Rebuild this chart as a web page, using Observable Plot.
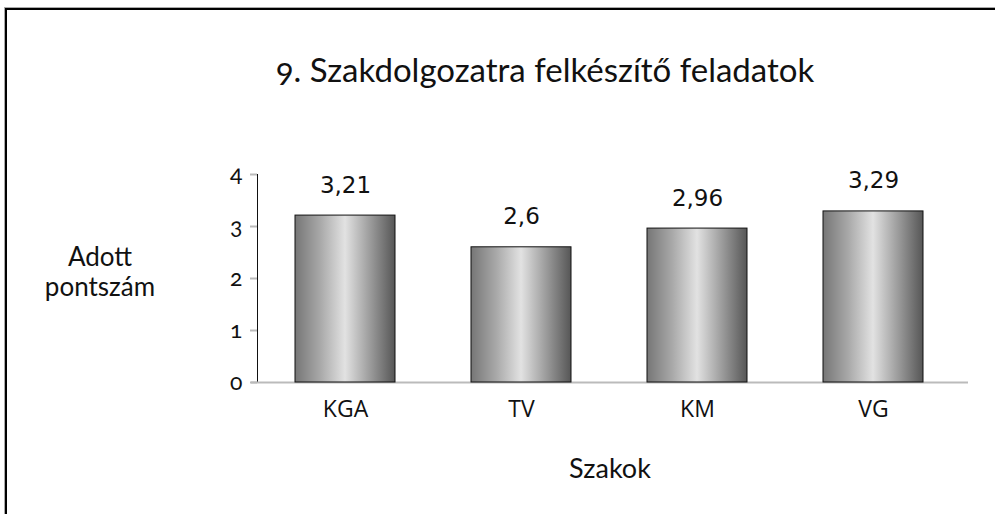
<!DOCTYPE html>
<html>
<head>
<meta charset="utf-8">
<script src="https://cdn.jsdelivr.net/npm/d3@7"></script>
<script src="https://cdn.jsdelivr.net/npm/@observablehq/plot@0.6"></script>
<style>
  html, body { margin: 0; padding: 0; background: #fff; }
  #wrap { position: relative; width: 995px; height: 514px; overflow: hidden; }
  #border { position: absolute; left: 5px; top: 8px; width: 1010px; height: 530px;
    border: 2px solid #000; box-shadow: -1px -1px 0 #aaa; }
  .lbl { position: absolute; font-family: Lato, "Open Sans", sans-serif; color: #111; white-space: nowrap; line-height: 1; }
  #title { left: 0; width: 1090px; top: 53px; text-align: center; font-size: 33px; font-variant-numeric: oldstyle-nums; }
  #ylab1 { left: 30px; width: 140px; top: 243px; text-align: center; font-size: 26px; }
  #ylab2 { left: 30px; width: 140px; top: 273px; text-align: center; font-size: 26px; }
  #xlab { left: 520px; width: 180px; top: 454px; text-align: center; font-size: 27px; }
  #chart { position: absolute; left: 0; top: 0; }
</style>
</head>
<body>
<div id="wrap">
  <div id="border"></div>
  <div id="chart"></div>
  <div class="lbl" id="title">9. Szakdolgozatra felkészítő feladatok</div>
  <div class="lbl" id="ylab1">Adott</div>
  <div class="lbl" id="ylab2">pontszám</div>
  <div class="lbl" id="xlab">Szakok</div>
</div>
<script>
const categories = ["KGA", "TV", "KM", "VG"];
const values = [3.21, 2.6, 2.96, 3.29];
const yTicks = [0, 1, 2, 3, 4];

const data = categories.map((c, i) => ({cat: c, val: values[i]}));
const fmt = v => String(v).replace(".", ",");

const chart = Plot.plot({
  width: 995,
  height: 514,
  marginLeft: 257,
  marginRight: 34,
  marginTop: 174,
  marginBottom: 132,
  style: {background: "transparent", fontFamily: "Lato, sans-serif", fontSize: "16px", color: "#111"},
  x: {domain: categories, paddingInner: 0.432, paddingOuter: 0.216, label: null, tickSize: 0, tickPadding: 18},
  y: {domain: [0, 4], ticks: yTicks, label: null, tickSize: 7, tickPadding: 8, tickFormat: d => String(d), line: true},
  marks: [
    Plot.ruleY([0], {stroke: "#bbb", strokeWidth: 2, insetLeft: -6, insetRight: -7}),
    Plot.barY(data, {x: "cat", y: "val", fill: "url(#barGrad)", stroke: "#111", strokeWidth: 1}),
    Plot.text(data, {x: "cat", y: "val", text: d => fmt(d.val), dy: -23, lineAnchor: "bottom",
      fontFamily: "DejaVu Sans, sans-serif", fontSize: 23, fill: "#111"})
  ]
});

// gradient definition for the bars
const ns = "http://www.w3.org/2000/svg";
const defs = document.createElementNS(ns, "defs");
defs.innerHTML = `<linearGradient id="barGrad" x1="0" x2="1" y1="0" y2="0">
  <stop offset="0" stop-color="#767676"/>
  <stop offset="0.25" stop-color="#a8a8a8"/>
  <stop offset="0.5" stop-color="#e2e2e2"/>
  <stop offset="0.75" stop-color="#9c9c9c"/>
  <stop offset="1" stop-color="#565656"/>
</linearGradient>`;
chart.insertBefore(defs, chart.firstChild);

// axis styling: tick text sizes set directly on each text element
const yTickStr = yTicks.map(String);
chart.querySelectorAll("text").forEach(t => {
  const s = t.textContent.trim();
  const p = t.parentNode.getAttribute("aria-label") || "";
  if (p.startsWith("x-axis") && categories.includes(s)) {
    t.style.fontSize = "23px";
    t.style.fontFamily = "'Open Sans', sans-serif";
  } else if (p.startsWith("y-axis") && yTickStr.includes(s)) {
    t.style.fontSize = "23px";
    t.style.fontFamily = "Lato, sans-serif";
    t.style.fontVariantNumeric = "oldstyle-nums";
  }
});
chart.querySelectorAll("[aria-label='y-axis tick']").forEach(g => g.setAttribute("stroke", "#bbb"));
chart.querySelectorAll("[aria-label='y-axis tick'] path").forEach(p => p.setAttribute("stroke-width", "2"));
chart.querySelectorAll("[aria-label='y-axis line'], [aria-label='y-axis'] line").forEach(g => { g.setAttribute("stroke", "#bbb"); g.setAttribute("stroke-width", "2"); });

document.getElementById("chart").appendChild(chart);
</script>
</body>
</html>
